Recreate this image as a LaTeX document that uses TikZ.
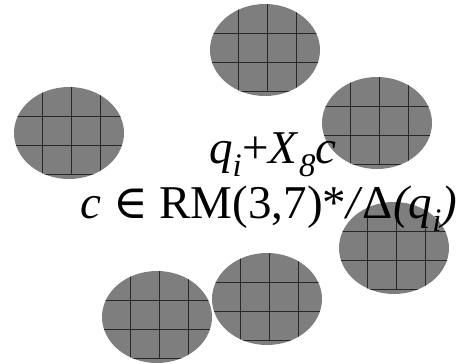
\documentclass[tikz,border=0pt]{standalone}
\usepackage{fontspec}
\setmainfont{Liberation Serif}
\newfontfamily\symbfont{DejaVu Serif}
\usepackage{tikz}
\definecolor{tilegray}{RGB}{126,126,126}
\definecolor{gridline}{RGB}{40,40,40}

\begin{document}
\begin{tikzpicture}[x=1pt, y=-1pt,
    tile/.style={fill=tilegray},
    gridln/.style={draw=gridline, line width=1pt},
    bigtext/.style={font=\fontsize{47}{56}\selectfont, inner sep=0pt, anchor=base}]
    \useasboundingbox (0,0) rectangle (464,364);

    % Gridded tiles
    \foreach \cx/\cy in {265/50, 69/133, 377/123, 394/248, 267/299, 157/317} {
        \begin{scope}
            \clip (\cx,\cy) ellipse [x radius=55pt, y radius=46pt];
            \fill[tile] (\cx-60,\cy-50) rectangle (\cx+60,\cy+50);
            \foreach \dx in {-27,2,31}
                \draw[gridln] (\cx+\dx,\cy-50) -- (\cx+\dx,\cy+41);
            \foreach \dy in {-17,12}
                \draw[gridln] (\cx-60,\cy+\dy) -- (\cx+60,\cy+\dy);
            \draw[gridln] (\cx-27,\cy+41) -- (\cx+31,\cy+41);
        \end{scope}
    }

    % Labels
    \node[bigtext] (coset) at (273,163)
        {\textit{q}\textsubscript{\textit{i}}+\textit{X}\textsubscript{\textit{8}}\textit{c}};
    \node[bigtext] (code) at (269,218)
        {\textit{c} {\symbfont ∈} RM(3,7)*\textit{/}Δ\textit{(q}\textsubscript{\textit{i}}\textit{)}};
\end{tikzpicture}
\end{document}
